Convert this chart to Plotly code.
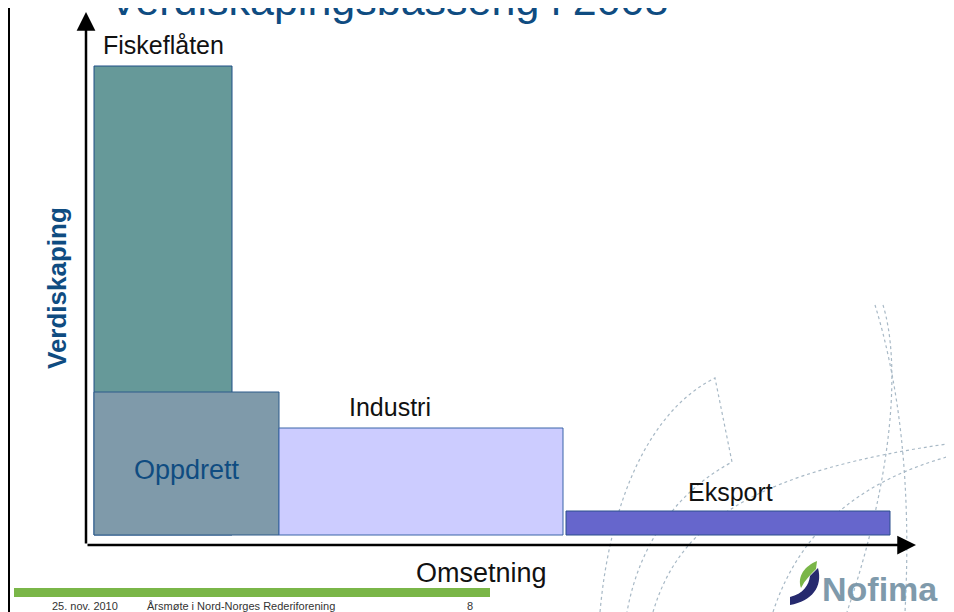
import plotly.graph_objects as go

# ---- data (arbitrary units) ----
sectors = ["Fiskeflåten", "Oppdrett", "Industri", "Eksport"]
omsetning_start = [0.0, 0.0, 18.5, 47.2]   # where each block starts on the turnover axis
omsetning = [13.8, 18.5, 28.4, 32.4]         # block widths (turnover)
verdiskaping = [46.9, 14.3, 10.7, 2.4]      # block heights (value creation)
colors = ["#669999", "#7f9aaa", "#ccccff", "#6666cc"]
line_colors = ["#1f4f86", "#2c5a8a", "#3a64a8", "#2b4f8c"]

title_text = "Verdiskapingsbasseng i 2008"
x_title = "Omsetning"
y_title = "Verdiskaping"
footer_date = "25. nov. 2010"
footer_event = "Årsmøte i Nord-Norges Rederiforening"
footer_page = "8"

OFF = 8                       # page body margin
W, H = 946, 604               # figure size (fits the 954x612 window after the margin)
L, R, T, B = 78, 42, 7, 67
PW, PH = W - L - R, H - T - B


def P(px, py):
    """page pixel -> paper coords"""
    fx, fy = px - OFF, py - OFF
    return (fx - L) / PW, (H - B - fy) / PH


def path(points, close=False):
    s = ""
    for cmd, pts in points:
        s += cmd + " " + " ".join(f"{P(a, b)[0]:.5f},{P(a, b)[1]:.5f}" for a, b in pts) + " "
    if close:
        s += "Z"
    return s


centers = [s + w / 2 for s, w in zip(omsetning_start, omsetning)]

fig = go.Figure()
fig.add_trace(go.Bar(
    x=centers, y=verdiskaping, width=omsetning, base=0,
    marker=dict(color=colors, line=dict(color=line_colors, width=1)),
    hoverinfo="skip", showlegend=False,
))

label_font = dict(family="Liberation Sans, Arial, sans-serif", size=25, color="#111111")
ann = []
ann.append(dict(x=centers[0], y=verdiskaping[0], xref="x", yref="y", text=sectors[0],
                showarrow=False, xanchor="center", yanchor="middle", yshift=21, font=label_font))
ann.append(dict(x=centers[1], y=verdiskaping[1] / 2, xref="x", yref="y", text=sectors[1],
                showarrow=False, xanchor="center", yanchor="middle", yshift=-6,
                font=dict(family="Liberation Sans, Arial", size=27, color="#0f4c81")))
ann.append(dict(x=centers[2], y=verdiskaping[2], xref="x", yref="y", text=sectors[2],
                showarrow=False, xanchor="center", yanchor="middle", yshift=21, xshift=-31, font=label_font))
ann.append(dict(x=centers[3], y=verdiskaping[3], xref="x", yref="y", text=sectors[3],
                showarrow=False, xanchor="center", yanchor="middle", yshift=19, xshift=2, font=label_font))

# axis arrows
ax_x, ax_y = P(86, 12)
ann.append(dict(x=ax_x, y=ax_y, xref="paper", yref="paper", text="", showarrow=True,
                ax=0, ay=533, arrowhead=2, arrowsize=1.5, arrowwidth=2.5, arrowcolor="#000000", standoff=0))
hx, hy = P(916, 545)
ann.append(dict(x=hx, y=hy, xref="paper", yref="paper", text="", showarrow=True,
                ax=-830, ay=0, arrowhead=2, arrowsize=1.5, arrowwidth=2.5, arrowcolor="#000000", standoff=0))

# axis titles
ox, oy = P(481, 573)
ann.append(dict(x=ox, y=oy, xref="paper", yref="paper", text=x_title, showarrow=False,
                xanchor="center", yanchor="middle",
                font=dict(family="Liberation Sans, Arial, sans-serif", size=27, color="#111111")))
vx, vy = P(57, 288)
ann.append(dict(x=vx, y=vy, xref="paper", yref="paper", text=f"<b>{y_title}</b>", showarrow=False,
                xanchor="center", yanchor="middle",
                textangle=-90, font=dict(family="Liberation Sans, Arial", size=26, color="#0f4c81")))

# slide title (cut off at top)
tx, ty = P(388, 0)
ann.append(dict(x=tx, y=ty, xref="paper", yref="paper", text=title_text, showarrow=False,
                xanchor="center", yanchor="middle",
                font=dict(family="Liberation Sans, Arial", size=43, color="#0f4c81")))

# footer
ffont = dict(family="Liberation Sans, Arial", size=11, color="#333333")
for txt, px in [(footer_date, 50), (footer_event, 145), (footer_page, 465)]:
    fx, fy = P(px, 606)
    ann.append(dict(x=fx, y=fy, xref="paper", yref="paper", text=txt, showarrow=False,
                    xanchor="left", yanchor="middle", font=ffont))

# Nofima wordmark
nx, ny = P(880, 589)
ann.append(dict(x=nx, y=ny, xref="paper", yref="paper", text="<b>Nofima</b>", showarrow=False,
                xanchor="center", yanchor="middle",
                font=dict(family="Liberation Sans, Arial", size=34, color="#7f9aab")))

shapes = []
deco = dict(color="#a8b9c6", width=1.2, dash="dot")
arcs = [
    [("M", [(600, 612)]), ("C", [(610, 500), (650, 410), (715, 378)]), ("L", [(732, 462)]),
     ("C", [(680, 490), (640, 540), (627, 612)])],
    [("M", [(653, 612)]), ("C", [(680, 520), (760, 470), (954, 443)])],
    [("M", [(773, 612)]), ("C", [(800, 530), (860, 480), (954, 455)])],
    [("M", [(875, 305)]), ("C", [(898, 380), (912, 480), (905, 612)])],
    [("M", [(883, 305)]), ("C", [(900, 360), (895, 470), (847, 612)])],
]
for a in arcs:
    shapes.append(dict(type="path", xref="paper", yref="paper", path=path(a), line=deco, layer="below"))

# slide left border
bx0, by0 = P(9, 0)
bx1, by1 = P(9, 612)
shapes.append(dict(type="line", xref="paper", yref="paper", x0=bx0, y0=by0, x1=bx1, y1=by1,
                   line=dict(color="#000000", width=2)))
# green footer bar
gx0, gy0 = P(14, 588)
gx1, gy1 = P(490, 597)
shapes.append(dict(type="rect", xref="paper", yref="paper", x0=gx0, y0=gy1, x1=gx1, y1=gy0,
                   fillcolor="#7ab648", line=dict(width=0)))
# logo swoosh
shapes.append(dict(type="path", xref="paper", yref="paper",
                   path=path([("M", [(817, 561)]), ("C", [(805, 566), (797, 576), (801, 588)]),
                              ("C", [(805, 580), (811, 574), (816, 569)])], close=True),
                   fillcolor="#7ab648", line=dict(width=0)))
shapes.append(dict(type="path", xref="paper", yref="paper",
                   path=path([("M", [(818, 568)]), ("C", [(823, 587), (812, 601), (790, 605)]),
                              ("L", [(790, 597)]), ("C", [(803, 594), (809, 585), (810, 576)])], close=True),
                   fillcolor="#262a6e", line=dict(width=0)))

fig.update_layout(
    width=W, height=H,
    margin=dict(l=L, r=R, t=T, b=B),
    paper_bgcolor="#ffffff", plot_bgcolor="rgba(0,0,0,0)",
    xaxis=dict(range=[-0.8, 81.8], visible=False, fixedrange=True),
    yaxis=dict(range=[-1.0, 52.0], visible=False, fixedrange=True),
    annotations=ann, shapes=shapes, showlegend=False,
)

fig.write_html("out.html")
